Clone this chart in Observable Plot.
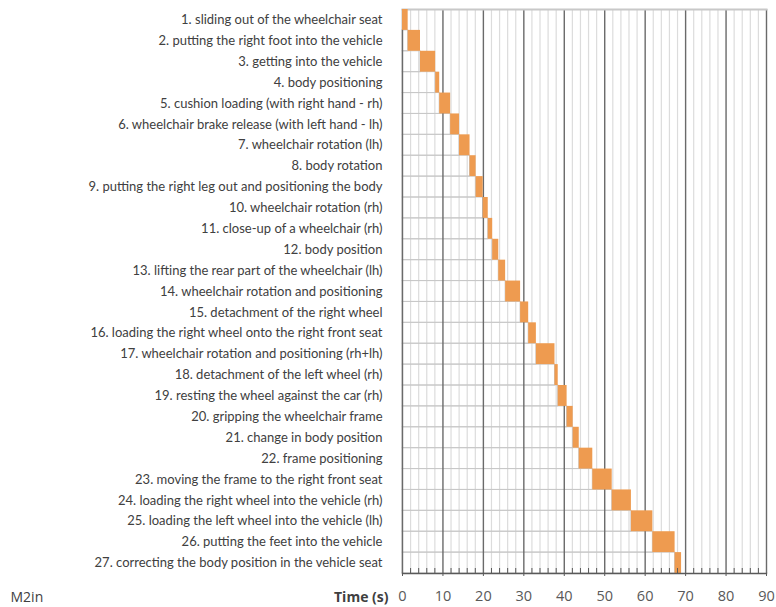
<!DOCTYPE html>
<html><head><meta charset="utf-8">
<script src="https://cdn.jsdelivr.net/npm/d3@7"></script>
<script src="https://cdn.jsdelivr.net/npm/@observablehq/plot@0.6"></script>
<style>html,body{margin:0;padding:0;background:#fff;} #chart{width:776px;height:607px;}</style>
</head><body><div id="chart"></div>
<script>
const tasks = [
  "1. sliding out of the wheelchair seat",
  "2. putting the right foot into the vehicle",
  "3. getting into the vehicle",
  "4. body positioning",
  "5. cushion loading (with right hand - rh)",
  "6. wheelchair brake release (with left hand - lh)",
  "7. wheelchair rotation (lh)",
  "8. body rotation",
  "9. putting the right leg out and positioning the body",
  "10. wheelchair rotation (rh)",
  "11. close-up of a wheelchair (rh)",
  "12. body position",
  "13. lifting the rear part of the wheelchair (lh)",
  "14. wheelchair rotation and positioning",
  "15. detachment of the right wheel",
  "16. loading the right wheel onto the right front seat",
  "17. wheelchair rotation and positioning (rh+lh)",
  "18. detachment of the left wheel (rh)",
  "19. resting the wheel against the car (rh)",
  "20. gripping the wheelchair frame",
  "21. change in body position",
  "22. frame positioning",
  "23. moving the frame to the right front seat",
  "24. loading the right wheel into the vehicle (rh)",
  "25. loading the left wheel into the vehicle (lh)",
  "26. putting the feet into the vehicle",
  "27. correcting the body position in the vehicle seat"
];
const starts = [0, 1.4, 4.45, 8.2, 9.2, 11.9, 14.1, 16.7, 18.2, 19.95, 21.2, 22.3, 23.8, 25.5, 29.2, 31.2, 33.1, 37.7, 38.5, 40.7, 42.2, 43.7, 47.05, 51.85, 56.6, 61.9, 67.4];
const ends   = [1.4, 4.45, 8.2, 9.2, 11.9, 14.1, 16.7, 18.2, 19.95, 21.2, 22.3, 23.8, 25.5, 29.2, 31.2, 33.1, 37.7, 38.5, 40.7, 42.2, 43.7, 47.05, 51.85, 56.6, 61.9, 67.4, 69.0];
const majorTicks = [0, 10, 20, 30, 40, 50, 60, 70, 80, 90];
const minorTicks = [2, 4, 6, 8, 12, 14, 16, 18, 22, 24, 26, 28, 32, 34, 36, 38, 42, 44, 46, 48, 52, 54, 56, 58, 62, 64, 66, 68, 72, 74, 76, 78, 82, 84, 86, 88];
const seriesName = "M2in";
const xLabel = "Time (s)";

const rows = tasks.map((t, i) => ({task: t, start: starts[i], end: ends[i]}));

// fit label font size so the first label spans ~209px like the reference
const fam = "Lato, 'Open Sans', sans-serif";
const ctx = document.createElement("canvas").getContext("2d");
ctx.font = "100px Lato";
const w = ctx.measureText(tasks[0]).width;
const labelSize = Math.min(13, Math.max(10, 100 * 209 / w));

const W = 776, H = 607;
const chart = Plot.plot({
  width: W, height: H,
  marginLeft: 402, marginRight: 10, marginTop: 9, marginBottom: 34,
  style: {fontFamily: fam, background: "#fff"},
  x: {domain: [0, 90]},
  y: {domain: tasks, padding: 0, round: false},
  marks: [
    Plot.ruleX(minorTicks, {stroke: "#dcdcdc", strokeWidth: 1.2}),
    Plot.rectX(rows.filter(d => d.start > 0), {x1: 0, x2: "start", y: "task", fill: "none", stroke: "#c8c8c8", strokeWidth: 1}),
    Plot.ruleX(majorTicks, {stroke: "#6a6a6a", strokeWidth: 1.4}),
    Plot.frame({anchor: "top", stroke: "#c8c8c8", strokeWidth: 2}),
    Plot.barX(rows, {x1: "start", x2: "end", y: "task", fill: "#ee9b50"}),
    Plot.tickX(minorTicks, {x: d => d, insetTop: 559, stroke: "#595959"}),
    Plot.frame({anchor: "bottom", stroke: "#595959", strokeWidth: 1.4}),
    Plot.axisX(majorTicks, {anchor: "bottom", tickSize: 3, tickPadding: 14, fontSize: 14.5, fontFamily: "'Open Sans', sans-serif", color: "#595959", label: null, stroke: "#595959"}),
    Plot.axisY({anchor: "left", tickSize: 0, tickPadding: 20, fontSize: labelSize, color: "#404040", label: null}),
    Plot.text([xLabel], {frameAnchor: "bottom-left", dx: -14, dy: 28, textAnchor: "end", fontWeight: "bold", fontSize: 14, fontFamily: "'Open Sans', sans-serif", fill: "#404040"}),
    Plot.text([seriesName], {frameAnchor: "bottom-left", dx: -392, dy: 28, textAnchor: "start", fontSize: 14, fontFamily: "'Open Sans', sans-serif", fill: "#404040"})
  ]
});
document.getElementById("chart").append(chart);
</script>
</body></html>
